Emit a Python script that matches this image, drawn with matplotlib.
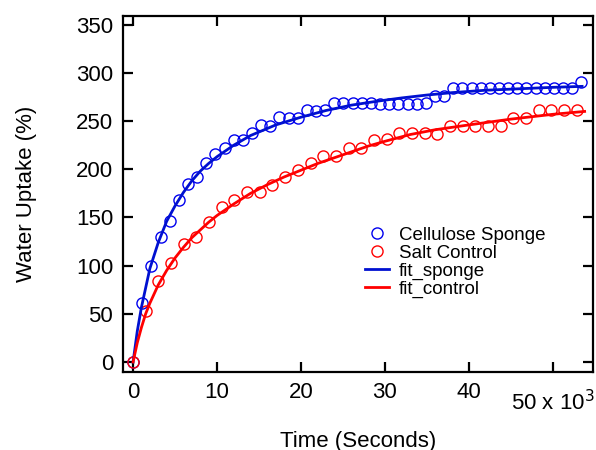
import numpy as np
import matplotlib
matplotlib.use('Agg')
import matplotlib.pyplot as plt

plt.rcParams['font.family'] = ['Liberation Sans', 'DejaVu Sans']

# measured data (time in seconds, uptake in %)
sponge_t = [0, 1090, 2180, 3270, 4360, 5450, 6540, 7630, 8720, 9810,
            10900, 11990, 13080, 14170, 15260, 16350, 17440, 18530, 19620, 20710,
            21800, 22890, 23980, 25070, 26160, 27250, 28340, 29430, 30520, 31610,
            32700, 33790, 34880, 35970, 37060, 38150, 39240, 40330, 41420, 42510,
            43600, 44690, 45780, 46870, 47960, 49050, 50140, 51230, 52320, 53410]
sponge_y = [0, 61.6, 99.7, 130, 146, 168, 184.5, 192, 206, 215.5,
            222, 230.5, 230, 238, 246, 245, 254, 253, 253, 261,
            260, 261, 268.5, 268.5, 268.5, 268.5, 268.5, 267.5, 267.5, 267.5,
            267.5, 267.5, 268.5, 276.5, 276, 284, 284, 284, 284, 284,
            284, 284, 284, 284, 284, 284, 284, 284, 284, 291]

control_t = [0, 1510, 3020, 4530, 6040, 7550, 9060, 10570, 12080, 13590,
             15100, 16610, 18120, 19630, 21140, 22650, 24160, 25670, 27180, 28690,
             30200, 31710, 33220, 34730, 36240, 37750, 39260, 40770, 42280, 43790,
             45300, 46810, 48320, 49830, 51340, 52850]
control_y = [0, 53, 84, 103, 122.5, 129.5, 145, 160.5, 168, 176,
             176, 183.5, 192, 199.5, 207, 214, 214, 222, 222, 230,
             231, 237.5, 238, 237.5, 237, 245, 245, 244.5, 244.5, 244.5,
             253, 253, 261, 261, 261, 261]

# fit curves
fit_sponge_t = [0, 500, 1000, 2000, 3000, 4000, 5000, 6000, 7000, 8000, 9000,
                10000, 12000, 14000, 17000, 20000, 23000, 26000, 29000, 32000,
                35000, 38000, 42000, 46000, 50000, 53500]
fit_sponge_y = [0, 32, 57, 97, 124, 146, 162, 176, 188, 198, 206,
                213, 225, 235, 246, 254, 261, 266.5, 270.5, 274,
                277, 279.5, 282, 283.5, 285, 286]

fit_control_t = [0, 500, 1000, 1500, 2000, 3000, 4000, 5000, 6000, 7000, 8000,
                 9000, 10000, 12000, 14000, 16000, 18000, 20000, 22000, 24000,
                 26000, 28000, 30000, 33000, 36000, 40000, 45000, 50000, 53800]
fit_control_y = [0, 20, 36, 50, 61, 80, 95, 108, 119, 129, 137,
                 145, 152, 164, 175, 184, 192, 199, 206, 212,
                 218, 224, 229, 236, 241, 246, 252, 257, 260]

x_ticks = [0, 10000, 20000, 30000, 40000, 50000]
x_ticklabels = ['0', '10', '20', '30', '40', '']
y_ticks = [0, 50, 100, 150, 200, 250, 300, 350]

blue = '#0000ee'
red = '#ff0000'

fig = plt.figure(figsize=(5.96, 4.5), dpi=100)
ax = fig.add_axes([0.2064, 0.1733, 0.7886, 0.7911])

ax.plot(sponge_t, sponge_y, 'o', mfc='none', mec=blue, ms=8, mew=1.0,
        label='Cellulose Sponge')
ax.plot(control_t, control_y, 'o', mfc='none', mec=red, ms=8, mew=1.0,
        label='Salt Control')
ax.plot(fit_sponge_t, fit_sponge_y, '-', color='#0010d0', lw=2.0, label='fit_sponge')
ax.plot(fit_control_t, fit_control_y, '-', color=red, lw=2.0, label='fit_control')

ax.set_xlim(-1200, 54800)
ax.set_ylim(-10.4, 359)
ax.set_xticks(x_ticks)
ax.set_xticklabels(x_ticklabels)
ax.set_yticks(y_ticks)
ax.tick_params(direction='in', length=7.5, width=1.6, labelsize=16,
               top=True, right=True, pad=7)
for s in ax.spines.values():
    s.set_linewidth(1.6)

ax.text(50000, -0.05, '50 x 10$^{3}$', transform=ax.get_xaxis_transform(),
        ha='center', va='top', fontsize=16)

ax.set_xlabel('Time (Seconds)', fontsize=16, labelpad=20)
ax.set_ylabel('Water Uptake (%)', fontsize=16, labelpad=28)

ax.legend(loc='upper left', bbox_to_anchor=(0.499, 0.43), frameon=False,
          fontsize=13.5, handlelength=1.3, handletextpad=0.5, labelspacing=0.05,
          borderaxespad=0)

fig.savefig('out.png', dpi=100)
